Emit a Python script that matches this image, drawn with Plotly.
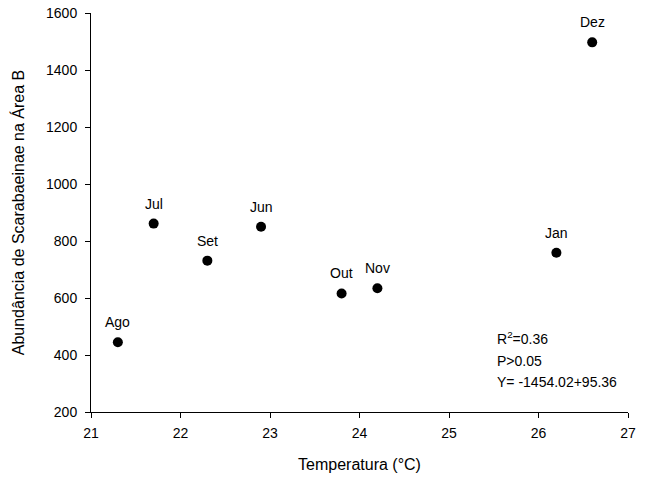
import plotly.graph_objects as go

months = ["Ago", "Jul", "Set", "Jun", "Out", "Nov", "Jan", "Dez"]
temperatura = [21.3, 21.7, 22.3, 22.9, 23.8, 24.2, 26.2, 26.6]
abundancia = [445, 861, 731, 850, 616, 634, 759, 1497]

x_ticks = [21, 22, 23, 24, 25, 26, 27]
y_ticks = [200, 400, 600, 800, 1000, 1200, 1400, 1600]

stats_lines = ["R<sup>2</sup>=0.36", "P>0.05", "Y= -1454.02+95.36"]
stats_y = [459, 378, 304]
stats_x = 25.51

font_family = "Liberation Sans, Arial, sans-serif"

fig = go.Figure()
fig.add_trace(go.Scatter(
    x=temperatura, y=abundancia, mode="markers",
    marker=dict(color="black", size=10),
    showlegend=False, cliponaxis=False,
))

for m, xv, yv in zip(months, temperatura, abundancia):
    fig.add_annotation(
        x=xv, y=yv, text=m, showarrow=False, yshift=20,
        xanchor="center", yanchor="middle",
        font=dict(family=font_family, size=14, color="black"),
    )

for line, yv in zip(stats_lines, stats_y):
    fig.add_annotation(
        x=stats_x, y=yv, text=line, showarrow=False,
        xanchor="left", yanchor="middle", align="left",
        font=dict(family=font_family, size=14, color="black"),
    )

fig.update_layout(
    width=650, height=484,
    margin=dict(l=91, r=22, t=13, b=72, autoexpand=False),
    paper_bgcolor="white", plot_bgcolor="white",
    font=dict(family=font_family, size=14, color="black"),
    xaxis=dict(
        range=[21, 27], tickvals=x_ticks, showgrid=False, zeroline=False,
        showline=True, linecolor="black", linewidth=1,
        ticks="outside", ticklen=5, tickcolor="black",
        tickfont=dict(size=14), ticklabelstandoff=3, automargin=False,
        title=dict(text="Temperatura (°C)", font=dict(size=16), standoff=19),
    ),
    yaxis=dict(
        range=[200, 1600], tickvals=y_ticks, showgrid=False, zeroline=False,
        showline=True, linecolor="black", linewidth=1,
        ticks="outside", ticklen=5, tickcolor="black",
        tickfont=dict(size=14), ticklabelstandoff=5, automargin=False,
        ticklabeloverflow="allow",
        title=dict(text="Abundância de Scarabaeinae na Área B", font=dict(size=16), standoff=17),
    ),
)

fig.write_html("out.html", config={"displayModeBar": False},
               post_script="document.body.style.margin='0';")
